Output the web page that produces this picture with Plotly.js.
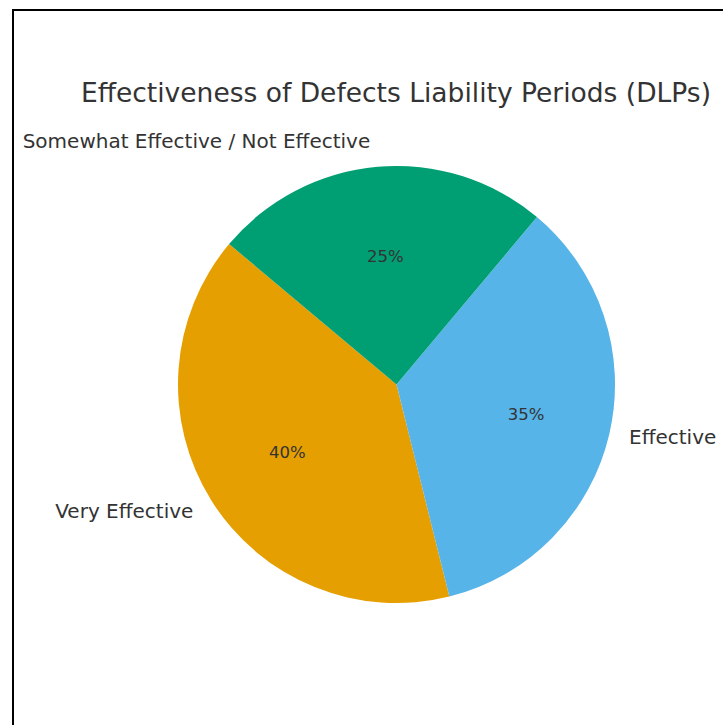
<!DOCTYPE html>
<html>
<head>
<meta charset="utf-8">
<script src="https://cdn.plot.ly/plotly-3.0.1.min.js"></script>
<style>
  html, body { margin: 0; padding: 0; background: #ffffff; }
  #chart { width: 723px; height: 725px; }
</style>
</head>
<body>
<div id="chart"></div>
<script>
// Survey answers on how effective Defects Liability Periods are
const categories = ['Very Effective', 'Effective', 'Somewhat Effective / Not Effective'];
const shares = [40, 35, 25];
const sliceColors = ['#E69F00', '#56B4E9', '#009E73'];
const chartTitle = 'Effectiveness of Defects Liability Periods (DLPs)';

const W = 723, H = 725;
const cx = 396.5, cy = 384.5, r = 218.5;
function domainFor(radius) {
  return {
    x: [(cx - radius) / W, (cx + radius) / W],
    y: [1 - (cy + radius) / H, 1 - (cy - radius) / H]
  };
}
const textFont = { family: 'DejaVu Sans, sans-serif', color: '#333333' };
const clear = categories.map(() => 'rgba(0,0,0,0)');

// first slice ends at the upper-left, slices run counterclockwise
const startRotation = 166;

function pieTrace(extra) {
  return Object.assign({
    type: 'pie',
    labels: categories,
    values: shares,
    sort: false,
    direction: 'counterclockwise',
    rotation: startRotation,
    hoverinfo: 'skip',
    showlegend: false
  }, extra);
}

// filled slices; the small slice carries its own percentage
const slices = pieTrace({
  marker: { colors: sliceColors, line: { width: 0 } },
  texttemplate: '%{percent:.0%}',
  textposition: ['none', 'none', 'inside'],
  insidetextorientation: 'horizontal',
  insidetextfont: Object.assign({ size: 16.5 }, textFont),
  domain: domainFor(r)
});

// transparent, wider copy so the large slices' percentages sit further out
const wideText = pieTrace({
  marker: { colors: clear, line: { width: 0 } },
  texttemplate: '%{percent:.0%}',
  textposition: ['inside', 'inside', 'none'],
  insidetextorientation: 'horizontal',
  insidetextfont: Object.assign({ size: 16.5 }, textFont),
  domain: domainFor(r * 1.15)
});

// transparent copy carrying the category names outside the rim
const outerLabels = pieTrace({
  marker: { colors: clear, line: { width: 0 } },
  texttemplate: '%{label}',
  textposition: 'outside',
  outsidetextfont: Object.assign({ size: 20 }, textFont),
  domain: domainFor(r + 14)
});

const layout = {
  width: W,
  height: H,
  margin: { l: 0, r: 0, t: 0, b: 0 },
  paper_bgcolor: '#ffffff',
  title: {
    text: chartTitle,
    font: { family: 'DejaVu Sans, sans-serif', size: 26.5, color: '#333333' },
    x: 396 / W,
    xanchor: 'center',
    xref: 'paper',
    y: 1 - 93 / H,
    yanchor: 'middle',
    yref: 'container'
  },
  shapes: [{
    type: 'rect',
    xref: 'paper', yref: 'paper',
    x0: 13 / W, x1: 1.05,
    y0: -0.05, y1: 1 - 10 / H,
    line: { color: '#000000', width: 2 },
    fillcolor: 'rgba(0,0,0,0)'
  }]
};

Plotly.newPlot('chart', [slices, wideText, outerLabels], layout, { displayModeBar: false, staticPlot: true });
</script>
</body>
</html>
